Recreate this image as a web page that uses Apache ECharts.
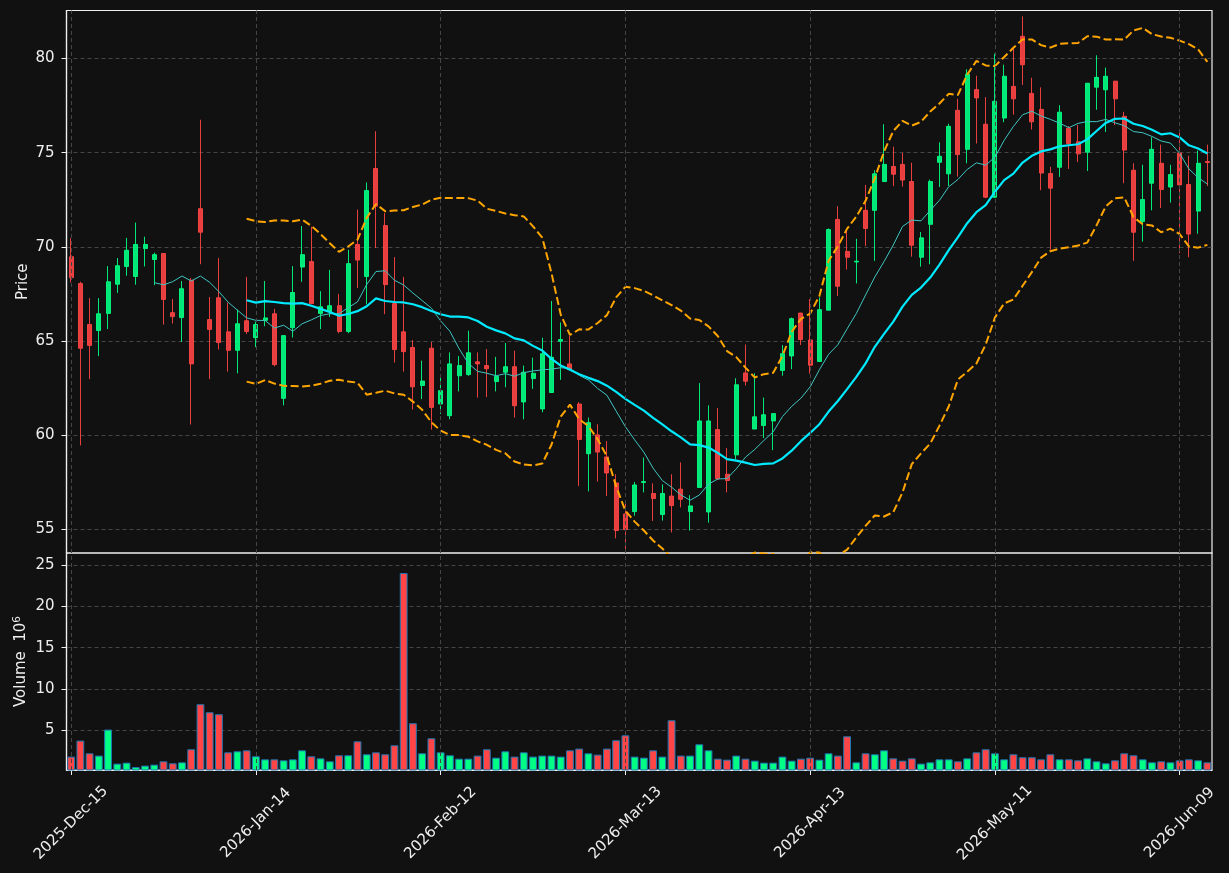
<!DOCTYPE html>
<html><head><meta charset="utf-8">
<script src="https://cdn.jsdelivr.net/npm/echarts@6.0.0/dist/echarts.min.js"></script>
<style>html,body{margin:0;padding:0;background:#111111;}#chart{width:1229px;height:873px;}</style>
</head><body><div id="chart"></div>
<script>
const dates = ['2025-Dec-15','2025-Dec-16','2025-Dec-17','2025-Dec-18','2025-Dec-19','2025-Dec-22','2025-Dec-23','2025-Dec-24','2025-Dec-26','2025-Dec-29','2025-Dec-30','2025-Dec-31',
'2026-Jan-02','2026-Jan-05','2026-Jan-06','2026-Jan-07','2026-Jan-08','2026-Jan-09','2026-Jan-12','2026-Jan-13','2026-Jan-14','2026-Jan-15','2026-Jan-16','2026-Jan-20','2026-Jan-21','2026-Jan-22','2026-Jan-23','2026-Jan-26','2026-Jan-27','2026-Jan-28','2026-Jan-29','2026-Jan-30',
'2026-Feb-02','2026-Feb-03','2026-Feb-04','2026-Feb-05','2026-Feb-06','2026-Feb-09','2026-Feb-10','2026-Feb-11','2026-Feb-12','2026-Feb-13','2026-Feb-17','2026-Feb-18','2026-Feb-19','2026-Feb-20','2026-Feb-23','2026-Feb-24','2026-Feb-25','2026-Feb-26','2026-Feb-27',
'2026-Mar-02','2026-Mar-03','2026-Mar-04','2026-Mar-05','2026-Mar-06','2026-Mar-09','2026-Mar-10','2026-Mar-11','2026-Mar-12','2026-Mar-13','2026-Mar-16','2026-Mar-17','2026-Mar-18','2026-Mar-19','2026-Mar-20','2026-Mar-23','2026-Mar-24','2026-Mar-25','2026-Mar-26','2026-Mar-27','2026-Mar-30','2026-Mar-31',
'2026-Apr-01','2026-Apr-02','2026-Apr-06','2026-Apr-07','2026-Apr-08','2026-Apr-09','2026-Apr-10','2026-Apr-13','2026-Apr-14','2026-Apr-15','2026-Apr-16','2026-Apr-17','2026-Apr-20','2026-Apr-21','2026-Apr-22','2026-Apr-23','2026-Apr-24','2026-Apr-27','2026-Apr-28','2026-Apr-29','2026-Apr-30',
'2026-May-01','2026-May-04','2026-May-05','2026-May-06','2026-May-07','2026-May-08','2026-May-11','2026-May-12','2026-May-13','2026-May-14','2026-May-15','2026-May-18','2026-May-19','2026-May-20','2026-May-21','2026-May-22','2026-May-26','2026-May-27','2026-May-28','2026-May-29',
'2026-Jun-01','2026-Jun-02','2026-Jun-03','2026-Jun-04','2026-Jun-05','2026-Jun-08','2026-Jun-09','2026-Jun-10','2026-Jun-11','2026-Jun-12'];

const opens = [69.48,68.06,65.88,65.56,66.47,68.02,68.96,68.43,69.91,69.33,
 69.65,66.51,66.25,68.23,72.03,66.14,67.30,65.49,64.51,66.08,
 65.18,66.10,66.45,61.96,65.71,68.93,69.22,66.47,66.56,66.88,
 65.51,70.13,68.43,74.16,71.13,66.99,65.49,64.66,62.64,64.62,
 61.66,61.04,63.16,63.22,63.90,63.70,62.85,63.35,63.64,61.77,
 63.01,61.40,62.27,64.99,63.79,61.66,59.02,60.02,58.85,57.47,
 55.82,55.95,57.49,56.91,55.79,56.77,57.14,55.95,57.23,55.93,
 60.30,57.93,58.96,63.31,60.33,60.52,60.76,63.44,64.21,66.49,
 65.06,63.92,66.64,71.46,69.76,69.20,71.94,71.94,73.47,74.27,
 74.38,73.47,69.45,71.20,74.49,73.88,77.25,75.18,78.35,76.51,
 72.64,76.84,78.52,81.18,78.15,77.30,73.90,74.23,76.30,75.58,
 75.03,78.48,78.34,78.80,76.93,74.07,71.35,73.38,74.44,73.18,
 74.99,73.31,71.90,74.53];

const highs = [70.46,68.15,67.28,67.28,68.98,69.41,70.48,71.29,70.54,69.69,
 69.65,67.23,68.19,68.34,76.75,67.34,69.41,67.04,66.67,68.41,
 66.03,68.19,66.71,65.29,68.98,71.11,71.07,67.65,68.78,67.50,
 69.85,71.98,73.42,76.14,71.81,69.46,68.41,65.06,63.96,64.95,
 63.11,64.40,64.21,65.55,64.40,64.58,64.16,64.90,64.49,63.70,
 64.12,65.18,67.13,65.99,65.29,61.76,60.94,60.59,59.69,57.93,
 56.47,57.52,58.82,57.45,57.39,57.93,58.56,56.82,62.77,61.59,
 61.44,59.32,63.03,64.82,63.29,62.00,61.15,64.79,66.25,66.49,
 67.23,67.32,70.98,72.16,70.83,70.43,73.29,74.07,76.51,75.32,
 74.99,74.47,70.79,73.57,75.55,76.54,77.86,79.43,79.09,77.95,
 80.26,79.67,80.54,82.24,78.98,78.47,74.25,77.52,76.41,76.47,
 78.69,80.17,79.52,78.80,77.17,74.44,74.36,75.82,75.43,74.36,
 76.19,74.84,75.12,75.43];

const lows = [68.11,59.46,62.98,64.20,65.64,67.56,68.47,67.99,68.96,67.97,
 65.88,65.93,64.95,60.57,69.08,62.98,64.55,63.38,63.29,65.38,
 64.68,65.79,63.66,61.59,65.19,68.15,66.99,65.64,66.28,65.42,
 65.42,67.82,66.95,69.94,66.43,63.86,63.38,61.37,61.92,60.30,
 61.13,60.85,62.33,63.16,62.00,62.03,62.33,62.55,60.94,60.85,
 62.46,61.22,62.27,62.94,63.51,57.30,57.02,57.54,56.78,54.53,
 53.92,55.73,56.97,55.45,55.47,54.84,56.17,54.94,57.23,55.36,
 57.62,56.97,58.72,62.64,60.33,59.85,59.21,63.16,63.51,64.79,
 63.27,63.92,66.64,67.39,68.80,68.06,70.04,69.26,73.47,73.23,
 73.20,69.48,68.95,69.08,73.18,73.23,73.73,74.44,75.49,72.59,
 72.59,76.62,77.02,78.60,76.23,73.01,69.85,73.72,74.14,74.51,
 74.03,77.28,76.10,76.47,73.38,69.26,70.28,71.94,72.07,72.35,
 69.67,69.45,70.70,73.23];

const closes = [68.37,64.62,64.77,66.45,68.15,69.00,69.82,70.13,70.13,69.59,
 67.21,66.30,67.78,63.79,70.78,65.62,64.92,64.51,65.92,65.51,
 65.88,66.23,63.75,65.29,67.58,69.59,66.99,66.82,66.88,65.51,
 69.11,69.30,72.99,72.16,68.00,64.55,64.44,62.57,62.88,61.48,
 62.37,63.79,63.70,64.38,63.79,63.53,63.12,63.64,61.57,63.35,
 63.29,64.33,64.14,65.08,63.51,59.78,60.67,59.11,58.00,54.94,
 54.99,57.36,57.54,56.64,56.91,56.27,56.60,56.25,60.76,60.76,
 57.69,57.60,62.68,62.87,60.98,61.09,61.15,64.33,66.19,65.08,
 63.72,66.67,70.92,67.91,69.45,69.24,70.98,73.88,74.38,73.86,
 73.55,70.09,70.48,73.47,74.81,76.40,74.90,79.17,77.91,72.64,
 77.73,79.06,77.86,79.67,76.64,73.92,73.12,77.15,75.49,74.94,
 78.69,79.00,79.06,77.86,75.14,70.78,72.51,75.18,73.05,73.84,
 73.29,70.68,74.44,74.48];

// volume in millions
const volumes = [1.81,3.75,2.21,1.93,5.08,0.96,1.08,0.55,0.72,0.84,
 1.24,1.00,1.12,2.70,8.15,7.18,6.94,2.33,2.45,2.57,
 1.85,1.48,1.48,1.36,1.48,2.57,1.85,1.60,1.24,1.97,
 1.97,3.66,2.09,2.33,2.09,3.18,24.03,5.85,2.21,4.03,
 2.33,1.97,1.56,1.56,1.93,2.70,1.68,2.45,1.81,2.33,
 1.81,1.93,1.93,1.81,2.57,2.78,2.21,2.05,2.78,3.79,
 4.39,1.81,1.68,2.57,1.81,6.21,1.93,1.93,3.30,2.57,
 1.56,1.44,1.93,1.56,1.32,1.08,1.08,1.81,1.32,1.56,
 1.68,1.44,2.21,1.93,4.27,1.12,2.21,2.09,2.57,1.60,
 1.32,1.60,0.96,1.12,1.48,1.48,1.24,1.60,2.33,2.70,
 2.21,1.48,2.09,1.73,1.73,1.48,2.09,1.48,1.48,1.36,
 1.60,1.24,1.00,1.36,2.21,1.97,1.48,1.12,1.24,1.12,
 1.36,1.48,1.36,1.12];

const priceTicks = [55, 60, 65, 70, 75, 80];
const volumeTicks = [5, 10, 15, 20, 25];
const labelEvery = 20;

// indicators derived from the closes (moving averages and Bollinger bands)
function sma(arr, n) {
  return arr.map((_, i) => i < n - 1 ? null : arr.slice(i - n + 1, i + 1).reduce((a, b) => a + b, 0) / n);
}
function bband(arr, n, k) {
  const m = sma(arr, n);
  return arr.map((_, i) => {
    if (i < n - 1) return null;
    const w = arr.slice(i - n + 1, i + 1);
    const v = w.reduce((a, b) => a + (b - m[i]) * (b - m[i]), 0) / n;
    return m[i] + k * Math.sqrt(v);
  });
}
const ma10 = sma(closes, 10);
const ma20 = sma(closes, 20);
const bbUp = bband(closes, 20, 2);
const bbLo = bband(closes, 20, -2);

const UP = '#00ff84', DOWN = '#ff4545';
const FG = '#eeeeee', FRAME = '#f0f0f0', GRIDC = '#454545';
const FONT = 'DejaVu Sans';
const FS = 15;
const isLabel = (i) => i % labelEvery === 0;
const vLines = dates.filter((_, i) => isLabel(i)).map(d => ({ xAxis: d }));
const gridLine = { type: [4, 3], color: GRIDC, width: 1 };

const chart = echarts.init(document.getElementById('chart'), null, { renderer: 'canvas' });
chart.setOption({
  backgroundColor: '#111111',
  animation: false,
  textStyle: { fontFamily: FONT },
  grid: [
    { left: 66.5, right: 17, top: 10.5, height: 542.5, show: true, borderColor: FRAME, borderWidth: 1.2, backgroundColor: 'transparent', outerBoundsMode: 'none', containLabel: false },
    { left: 66.5, right: 17, top: 553, height: 217, show: true, borderColor: FRAME, borderWidth: 1.2, backgroundColor: 'transparent', outerBoundsMode: 'none', containLabel: false }
  ],
  xAxis: [
    { type: 'category', gridIndex: 0, data: dates, boundaryGap: true,
      axisLine: { show: false }, axisTick: { show: false }, axisLabel: { show: false }, splitLine: { show: false } },
    { type: 'category', gridIndex: 1, data: dates, boundaryGap: true,
      axisLine: { show: true, lineStyle: { color: FRAME, width: 1.2 } },
      axisTick: { show: true, alignWithLabel: true, interval: (i) => isLabel(i), length: 5, lineStyle: { color: FRAME } },
      axisLabel: { show: true, interval: (i) => isLabel(i), rotate: 45, align: 'center', verticalAlign: 'middle', margin: 53,
        color: FG, fontSize: FS, fontFamily: FONT, hideOverlap: false },
      splitLine: { show: false } }
  ],
  yAxis: [
    { type: 'value', gridIndex: 0, min: 53.75, max: 82.55, position: 'left',
      name: 'Price', nameLocation: 'middle', nameGap: 36, nameRotate: 90, nameMoveOverlap: false,
      nameTextStyle: { color: FG, fontSize: FS, fontFamily: FONT },
      axisLine: { show: true, lineStyle: { color: FRAME, width: 1.2 } },
      axisTick: { show: true, length: 5, customValues: priceTicks, lineStyle: { color: FRAME } },
      axisLabel: { customValues: priceTicks, color: FG, fontSize: FS, fontFamily: FONT, margin: 12 },
      splitLine: { show: true, lineStyle: gridLine } },
    { type: 'value', gridIndex: 1, min: 0.19, max: 26.45, position: 'left',
      name: '{t|Volume  10}{s|6}', nameLocation: 'middle', nameGap: 36, nameRotate: 90, nameMoveOverlap: false,
      nameTextStyle: { color: FG, fontSize: FS, fontFamily: FONT,
        rich: { t: { color: FG, fontSize: FS, fontFamily: FONT, lineHeight: 19 },
                s: { color: FG, fontSize: 10.5, fontFamily: FONT, verticalAlign: 'top', lineHeight: 19 } } },
      axisLine: { show: true, lineStyle: { color: FRAME, width: 1.2 } },
      axisTick: { show: true, length: 5, customValues: volumeTicks, lineStyle: { color: FRAME } },
      axisLabel: { customValues: volumeTicks, color: FG, fontSize: FS, fontFamily: FONT, margin: 12 },
      splitLine: { show: true, lineStyle: gridLine } }
  ],
  series: [
    { type: 'line', xAxisIndex: 0, yAxisIndex: 0, data: [], silent: true, z: 1,
      markLine: { silent: true, symbol: ['none', 'none'], label: { show: false }, animation: false,
        lineStyle: gridLine, emphasis: { disabled: true }, data: vLines } },
    { type: 'line', xAxisIndex: 1, yAxisIndex: 1, data: [], silent: true, z: 1,
      markLine: { silent: true, symbol: ['none', 'none'], label: { show: false }, animation: false,
        lineStyle: gridLine, emphasis: { disabled: true }, data: vLines } },
    { type: 'candlestick', name: 'OHLC', xAxisIndex: 0, yAxisIndex: 0, z: 2,
      data: dates.map((_, i) => [opens[i], closes[i], lows[i], highs[i]]),
      barWidth: 4.5,
      itemStyle: { color: UP, color0: DOWN, borderColor: UP, borderColor0: DOWN, borderWidth: 1, opacity: 0.9 } },
    { type: 'line', name: 'MA10', xAxisIndex: 0, yAxisIndex: 0, data: ma10, showSymbol: false, z: 3,
      lineStyle: { color: '#3ec6c2', width: 1 } },
    { type: 'line', name: 'MA20', xAxisIndex: 0, yAxisIndex: 0, data: ma20, showSymbol: false, z: 3,
      lineStyle: { color: '#00eaff', width: 2.2 } },
    { type: 'line', name: 'BB upper', xAxisIndex: 0, yAxisIndex: 0, data: bbUp, showSymbol: false, z: 3,
      lineStyle: { color: '#ffa500', width: 2, type: [8, 3.5] } },
    { type: 'line', name: 'BB lower', xAxisIndex: 0, yAxisIndex: 0, data: bbLo, showSymbol: false, z: 3,
      lineStyle: { color: '#ffa500', width: 2, type: [8, 3.5] } },
    { type: 'bar', name: 'Volume', xAxisIndex: 1, yAxisIndex: 1, z: 2, barWidth: 7.8,
      data: volumes.map((v, i) => ({ value: v, itemStyle: { color: closes[i] >= opens[i] ? UP : DOWN } })),
      itemStyle: { borderColor: '#1f77b4', borderWidth: 1 } }
  ]
});
</script></body></html>
